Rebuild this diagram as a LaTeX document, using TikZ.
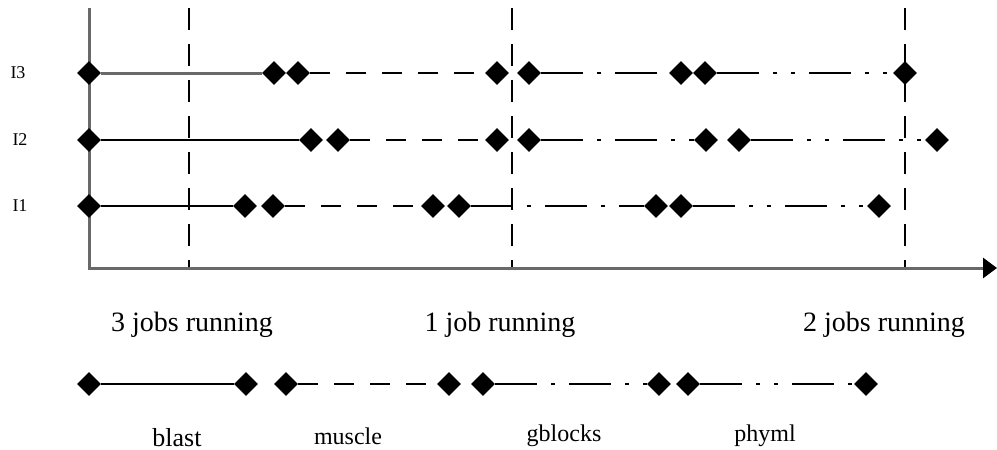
\documentclass[tikz,border=0pt]{standalone}
\usepackage{fontspec}
\setmainfont{Liberation Serif}
\usetikzlibrary{shapes.geometric, arrows.meta}
\definecolor{axisgray}{RGB}{105, 105, 105}

\begin{document}
\begin{tikzpicture}[
    x=0.5pt, y=-0.5pt,
    dmd/.style={diamond, fill=black, inner sep=0pt, minimum size=12pt},
    solidseg/.style={line width=1pt},
    graysolid/.style={line width=1.5pt, draw=axisgray},
    dashseg/.style={line width=1pt, dash pattern=on 10pt off 8pt},
    dotseg/.style={line width=1pt, dash pattern=on 21pt off 7pt on 2pt off 7pt},
    ddotseg/.style={line width=1pt, dash pattern=on 21pt off 7pt on 2pt off 7pt on 2pt off 7pt},
    guide/.style={line width=1pt, dash pattern=on 11pt off 7pt},
    axis/.style={line width=1.5pt, draw=axisgray},
    phase/.style={font=\fontsize{14}{16}\selectfont},
    tag/.style={font=\fontsize{12}{14}\selectfont},
    rowname/.style={font=\fontsize{9}{11}\selectfont}
]
    \useasboundingbox (0,0) rectangle (997,450);

    % time axis and the three phase boundaries
    \coordinate (ytop) at (89,8);
    \coordinate (origin) at (89,268);
    \coordinate (xend) at (997,268);
    \foreach \x [count=\k] in {189,512,905} {
        \coordinate (top\k) at (\x,8);
        \coordinate (bot\k) at (\x,268);
        \draw[guide] (top\k) -- (bot\k);
    }
    \draw[axis, -{Triangle[length=7pt,width=10pt,fill=black,color=black]}]
        (ytop) -- (origin) -- (xend);

    % job markers per instance, plus the legend row
    \foreach \r/\y/\xs in {r3/73/{89,274,298,497,529,681,705,905},
                           r2/140/{89,311,338,497,529,706,739,937},
                           r1/206/{89,245,273,433,459,656,681,879},
                           leg/384/{89,246,286,449,483,659,688,866}} {
        \foreach \x [count=\i from 0] in \xs
            \node[dmd] (\r-\i) at (\x,\y) {};
    }
    \foreach \r/\s in {r3/graysolid, r2/solidseg, r1/solidseg, leg/solidseg} {
        \draw[\s] (\r-0) -- (\r-1);
        \draw[dashseg] (\r-2) -- (\r-3);
        \draw[dotseg] (\r-4) -- (\r-5);
        \draw[ddotseg] (\r-6) -- (\r-7);
    }

    \node[rowname] (i3) at (18,73) {I3};
    \node[rowname] (i2) at (20,140) {I2};
    \node[rowname] (i1) at (20,206) {I1};

    \node[phase] (run3) at (192,325) {3 jobs running};
    \node[phase] (run1) at (500,325) {1 job running};
    \node[phase] (run2) at (884,325) {2 jobs running};

    \node[tag, font=\fontsize{13}{15}\selectfont] (blast) at (177,438) {blast};
    \node[tag] (muscle) at (348,436) {muscle};
    \node[tag] (gblocks) at (564,436) {gblocks};
    \node[tag] (phyml) at (765,436) {phyml};
\end{tikzpicture}
\end{document}
